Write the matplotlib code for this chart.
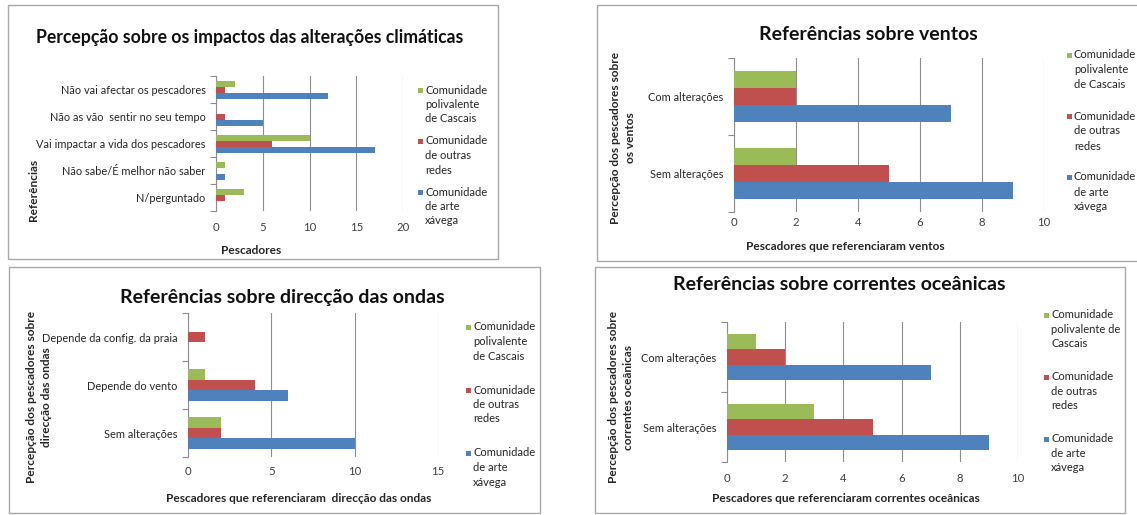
import matplotlib
matplotlib.use("Agg")
import matplotlib.pyplot as plt
from matplotlib.patches import Rectangle
import numpy as np

plt.rcParams['font.family'] = ['Lato', 'DejaVu Sans']

W, H, DPI = 1137, 515, 100
COLORS = ['#9BBB59', '#C0504D', '#4F81BD']
GRID = '#8e8e8e'
TXT = '#262626'

# --- Percepção sobre os impactos das alterações climáticas ---
impactos_cats = ["Não vai afectar os pescadores", "Não as vão  sentir no seu tempo",
                 "Vai impactar a vida dos pescadores", "Não sabe/É melhor não saber",
                 "N/perguntado"]
impactos_cascais = [2, 0, 10, 1, 3]
impactos_outras = [1, 1, 6, 0, 1]
impactos_xavega = [12, 5, 17, 1, 0]

# --- Referências sobre ventos ---
ventos_cats = ["Com alterações", "Sem alterações"]
ventos_cascais = [2, 2]
ventos_outras = [2, 5]
ventos_xavega = [7, 9]

# --- Referências sobre direcção das ondas ---
ondas_cats = ["Depende da config. da praia", "Depende do vento", "Sem alterações"]
ondas_cascais = [0, 1, 2]
ondas_outras = [1, 4, 2]
ondas_xavega = [0, 6, 10]

# --- Referências sobre correntes oceânicas ---
correntes_cats = ["Com alterações", "Sem alterações"]
correntes_cascais = [1, 3]
correntes_outras = [2, 5]
correntes_xavega = [7, 9]

legend_a = [["Comunidade", "polivalente", "de Cascais"],
            ["Comunidade", "de outras", "redes"],
            ["Comunidade", "de arte", "xávega"]]
legend_b = [["Comunidade", "polivalente de", "Cascais"],
            ["Comunidade", "de outras", "redes"],
            ["Comunidade", "de arte", "xávega"]]

fig = plt.figure(figsize=(W / DPI, H / DPI), dpi=DPI)


def fx(px):
    return px / W


def fy(py):
    return 1 - py / H


def ftext(x, y, s, **kw):
    kw.setdefault('color', TXT)
    fig.text(fx(x), fy(y), s, **kw)


def panel(box, axbox, cats, series, xmax, xstep, title, title_xy, title_size,
          xlabel, xlabel_xy, ylabel, ylabel_xy, tick_y, legend, leg_x, leg_y0,
          leg_gap, leg_line, fs=7.9, lab_fs=8.6):
    bx0, by0, bx1, by1 = box
    fig.add_artist(Rectangle((fx(bx0), fy(by1)), fx(bx1) - fx(bx0), fy(by0) - fy(by1),
                             transform=fig.transFigure, fill=False,
                             ec='#a8a8a8', lw=1.0))
    ax0, ay0, ax1, ay1 = axbox
    ax = fig.add_axes([fx(ax0), fy(ay1), fx(ax1) - fx(ax0), fy(ay0) - fy(ay1)])
    n = len(cats)
    pos = np.arange(n)[::-1]
    h = 2 / 9
    for k, (vals, col) in enumerate(zip(series, COLORS)):
        ax.barh(pos + (1 - k) * h, vals, height=h, color=col, lw=0, zorder=3)
    ax.set_xlim(0, xmax)
    ax.set_ylim(-0.5, n - 0.5)
    ax.set_xticks(np.arange(0, xmax + 0.1, xstep))
    ax.set_yticks(pos)
    ax.set_yticklabels(cats)
    ax.set_yticks(np.arange(-0.5, n), minor=True)
    ax.tick_params(axis='y', which='major', length=0, pad=7.5, labelsize=fs,
                   labelcolor=TXT)
    ax.tick_params(axis='y', which='minor', length=4, color=GRID, width=0.8)
    pad_pt = (tick_y - ay1 - 5) * 72 / DPI
    ax.tick_params(axis='x', length=0, pad=pad_pt, labelsize=8.2,
                   labelcolor='#404040')
    ax.xaxis.grid(True, color=GRID, lw=0.8)
    ax.set_axisbelow(True)
    for s in ('top', 'right', 'bottom'):
        ax.spines[s].set_visible(False)
    ax.spines['left'].set_color(GRID)
    ax.spines['left'].set_linewidth(0.8)
    ax.patch.set_alpha(0)

    ftext(*title_xy, title, ha='center', va='center', fontsize=title_size,
          fontweight='bold', color='#111111')
    ftext(*xlabel_xy, xlabel, ha='center', va='center', fontsize=lab_fs,
          fontweight='bold')
    ftext(*ylabel_xy, ylabel, ha='center', va='center', fontsize=lab_fs,
          fontweight='bold', rotation=90, linespacing=1.35)

    for i, (lines, col) in enumerate(zip(legend, COLORS)):
        y0 = leg_y0 + i * leg_gap
        fig.add_artist(Rectangle((fx(leg_x), fy(y0 + 2.5)), 5 / W, 5 / H,
                                 transform=fig.transFigure, fc=col, lw=0))
        for j, line in enumerate(lines):
            ftext(leg_x + 7, y0 + j * leg_line, line, ha='left', va='center',
                  fontsize=8.0)


panel(box=(8, 5, 498, 259), axbox=(216, 76, 403, 211),
      cats=impactos_cats,
      series=[impactos_cascais, impactos_outras, impactos_xavega],
      xmax=20, xstep=5,
      title="Percepção sobre os impactos das alterações climáticas",
      title_xy=(250, 37), title_size=12.7,
      xlabel="Pescadores", xlabel_xy=(251, 250),
      ylabel="Referências", ylabel_xy=(34, 190), tick_y=227,
      legend=legend_a, leg_x=418, leg_y0=90, leg_gap=51, leg_line=14.5)

panel(box=(597, 5, 1140, 261), axbox=(734, 58, 1044, 212),
      cats=ventos_cats,
      series=[ventos_cascais, ventos_outras, ventos_xavega],
      xmax=10, xstep=2,
      title="Referências sobre ventos", title_xy=(868, 35), title_size=14,
      xlabel="Pescadores que referenciaram ventos", xlabel_xy=(845, 247),
      ylabel="Percepção dos pescadores sobre\nos ventos", ylabel_xy=(623, 138),
      tick_y=222,
      legend=legend_a, leg_x=1067, leg_y0=55, leg_gap=61, leg_line=15)

panel(box=(9, 267, 540, 513), axbox=(188, 313, 438, 457),
      cats=ondas_cats,
      series=[ondas_cascais, ondas_outras, ondas_xavega],
      xmax=15, xstep=5,
      title="Referências sobre direcção das ondas", title_xy=(282, 297),
      title_size=14,
      xlabel="Pescadores que referenciaram  direcção das ondas",
      xlabel_xy=(299, 499),
      ylabel="Percepção dos pescadores sobre\ndirecção das ondas",
      ylabel_xy=(39, 397), tick_y=471,
      legend=legend_a, leg_x=466, leg_y0=327, leg_gap=63, leg_line=14.5)

panel(box=(595, 267, 1125, 513), axbox=(727, 322, 1018, 462),
      cats=correntes_cats,
      series=[correntes_cascais, correntes_outras, correntes_xavega],
      xmax=10, xstep=2,
      title="Referências sobre correntes oceânicas", title_xy=(839, 285),
      title_size=14,
      xlabel="Pescadores que referenciaram correntes oceânicas",
      xlabel_xy=(846, 499),
      ylabel="Percepção dos pescadores sobre\ncorrentes oceânicas",
      ylabel_xy=(621, 397), tick_y=478,
      legend=legend_b, leg_x=1044, leg_y0=315, leg_gap=62, leg_line=14.3)

fig.savefig("out.png", dpi=DPI)
